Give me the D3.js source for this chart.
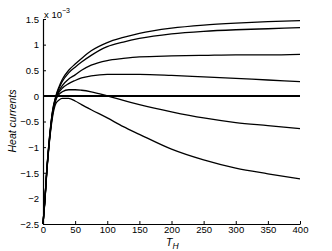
<!DOCTYPE html>
<html lang="en">
<head>
<meta charset="utf-8">
<title>Heat currents</title>
<script src="https://cdnjs.cloudflare.com/ajax/libs/d3/7.8.5/d3.min.js"></script>
<style>
  body { margin: 0; background: #fff; }
  text { font-family: "Liberation Sans", Arial, sans-serif; fill: #000; }
</style>
</head>
<body>
<script>
// T_H sample points
var tH = [0, 3, 6, 10, 15, 20, 25, 30, 40, 50, 60, 75, 100, 125, 150, 200, 250, 300, 350, 400];

// heat current curves (x 10^-3), top to bottom
var curve1 = [-2.5, -2.0, -1.42, -0.82, -0.28, 0.0, 0.18, 0.32, 0.5, 0.62, 0.73, 0.88, 1.04, 1.14, 1.22, 1.32, 1.38, 1.42, 1.45, 1.47];
var curve2 = [-2.5, -2.0, -1.43, -0.83, -0.29, -0.02, 0.15, 0.28, 0.45, 0.56, 0.66, 0.79, 0.96, 1.05, 1.12, 1.21, 1.26, 1.29, 1.31, 1.33];
var curve3 = [-2.5, -2.02, -1.44, -0.85, -0.31, -0.04, 0.1, 0.2, 0.33, 0.41, 0.5, 0.6, 0.69, 0.73, 0.76, 0.78, 0.79, 0.8, 0.8, 0.81];
var curve4 = [-2.5, -2.03, -1.45, -0.86, -0.33, -0.06, 0.07, 0.15, 0.24, 0.3, 0.35, 0.39, 0.42, 0.42, 0.42, 0.4, 0.37, 0.34, 0.31, 0.28];
var curve5 = [-2.5, -2.04, -1.46, -0.88, -0.35, -0.08, 0.03, 0.08, 0.12, 0.12, 0.11, 0.08, 0.0, -0.09, -0.17, -0.31, -0.43, -0.52, -0.58, -0.64];
var curve6 = [-2.5, -2.05, -1.48, -0.9, -0.4, -0.15, -0.08, -0.05, -0.05, -0.1, -0.17, -0.27, -0.43, -0.6, -0.75, -1.04, -1.25, -1.41, -1.52, -1.62];
var zeroT = [0, 400];
var zeroVals = [0, 0];

var xTicks = [0, 50, 100, 150, 200, 250, 300, 350, 400];
var yTicks = [1.5, 1, 0.5, 0, -0.5, -1, -1.5, -2, -2.5];

var w = 332, h = 251;
var svg = d3.select("body").append("svg")
  .attr("width", w)
  .attr("height", h);

var x = d3.scaleLinear().domain([0, 400]).range([43, 300]);
var y = d3.scaleLinear().domain([-2.5, 1.5]).range([224, 19]);

function fmt(v) {
  return v < 0 ? "\u2212" + Math.abs(v) : "" + v;
}

var line = d3.line()
  .x(function(d) { return x(d[0]); })
  .y(function(d) { return y(d[1]); })
  .curve(d3.curveMonotoneX);

var curves = [curve1, curve2, curve3, curve4, curve5, curve6];
svg.selectAll("path.curve")
  .data(curves)
  .enter()
  .append("path")
  .attr("class", "curve")
  .attr("fill", "none")
  .attr("stroke", "#000")
  .attr("stroke-width", 1.3)
  .attr("d", function(vals) {
    return line(tH.map(function(t, i) { return [t, vals[i]]; }));
  });

// zero line
svg.append("path")
  .attr("fill", "none")
  .attr("stroke", "#000")
  .attr("stroke-width", 2)
  .attr("d", line(zeroT.map(function(t, i) { return [t, zeroVals[i]]; })));

// axes
var xAxis = d3.axisBottom(x).tickValues(xTicks).tickSizeInner(-3).tickSizeOuter(0).tickPadding(2);
var yAxis = d3.axisLeft(y).tickValues(yTicks).tickSizeInner(-3).tickSizeOuter(0).tickPadding(4).tickFormat(fmt);

var gx = svg.append("g").attr("transform", "translate(0,224)").call(xAxis);
var gy = svg.append("g").attr("transform", "translate(43,0)").call(yAxis);

[gx, gy].forEach(function(g) {
  g.select(".domain").attr("stroke", "#000").attr("stroke-width", 1.2);
  g.selectAll(".tick line").attr("stroke", "#000");
  g.selectAll(".tick text").attr("font-size", 9.5).attr("font-family", "Liberation Sans, Arial, sans-serif");
});
gy.selectAll(".tick text").attr("dy", "0.35em");

// exponent label
var ex = svg.append("text").attr("x", 44).attr("y", 18).attr("font-size", 9.5);
ex.append("tspan").text("x 10");
ex.append("tspan").attr("dy", -5).attr("font-size", 7).text("\u22123");

// y label
svg.append("text")
  .attr("transform", "translate(16,121) rotate(-90)")
  .attr("text-anchor", "middle")
  .attr("font-size", 10.5)
  .attr("font-style", "italic")
  .text("Heat currents");

// x label
var xl = svg.append("text").attr("x", 166).attr("y", 246).attr("font-size", 10.5).attr("font-style", "italic");
xl.append("tspan").text("T");
xl.append("tspan").attr("dy", 3).attr("font-size", 8.5).text("H");
</script>
</body>
</html>
